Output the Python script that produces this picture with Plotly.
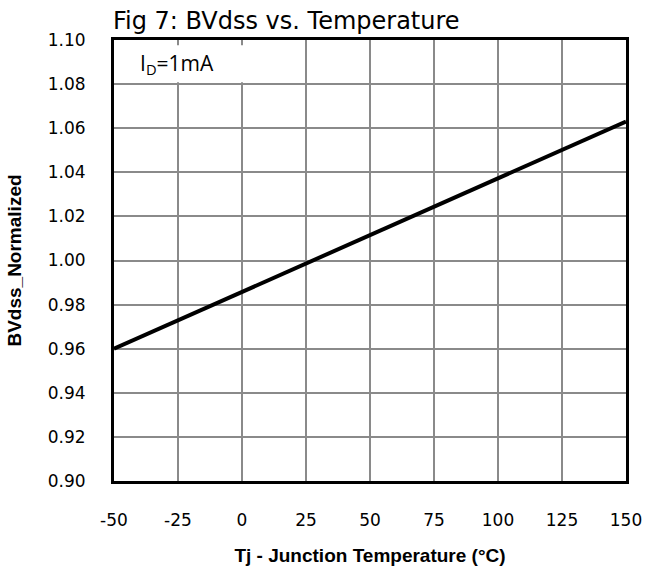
import plotly.graph_objects as go

temps = [-50, 150]
bvdss_norm = [0.960, 1.063]
x_ticks = [-50, -25, 0, 25, 50, 75, 100, 125, 150]
y_ticks = [0.90, 0.92, 0.94, 0.96, 0.98, 1.00, 1.02, 1.04, 1.06, 1.08, 1.10]

fig = go.Figure()
fig.add_trace(go.Scatter(x=temps, y=bvdss_norm, mode="lines",
                         line=dict(color="black", width=4), showlegend=False))

tickfont = dict(family="DejaVu Sans", size=17, color="black")
fig.update_layout(
    width=654, height=576,
    margin=dict(l=111, r=21, t=40, b=89),
    paper_bgcolor="white", plot_bgcolor="white",
    title=dict(text="Fig 7: BVdss vs. Temperature", x=113/654, xanchor="left",
               xref="container", y=1 - 21/576, yanchor="middle", yref="container",
               font=dict(family="DejaVu Sans", size=24, color="black"),
               pad=dict(t=0, b=0, l=0, r=0)),
    xaxis=dict(range=[-50, 150], tickvals=x_ticks, ticktext=[str(v) for v in x_ticks],
               showgrid=True, gridcolor="#8a8a8a", gridwidth=1.5,
               showline=True, linecolor="black", linewidth=3, mirror=True,
               ticks="", ticklabelstandoff=22, tickfont=tickfont, zeroline=False,
               title=dict(text="<b>Tj - Junction Temperature (°C)</b>", standoff=20,
                          font=dict(family="Liberation Sans", size=19, color="black"))),
    yaxis=dict(range=[0.90, 1.10], tickvals=y_ticks, ticktext=[f"{v:.2f}" for v in y_ticks],
               showgrid=True, gridcolor="#8a8a8a", gridwidth=1.5,
               showline=True, linecolor="black", linewidth=3, mirror=True,
               ticks="", ticklabelstandoff=22, tickfont=tickfont, zeroline=False,
               title=dict(text="<b>BVdss_Normalized</b>", standoff=22,
                          font=dict(family="Liberation Sans", size=19, color="black"))),
)

fig.add_shape(type="rect", xref="paper", yref="paper", x0=0.02, x1=0.291, y0=0.904, y1=0.988,
              fillcolor="white", line=dict(width=0), layer="above")
fig.add_annotation(text="I<sub>D</sub>=1mA", xref="paper", yref="paper", x=0.046, y=0.946,
                   xanchor="left", yanchor="middle", showarrow=False,
                   font=dict(family="Open Sans", size=21, color="black"))

fig.write_html("out.html")
